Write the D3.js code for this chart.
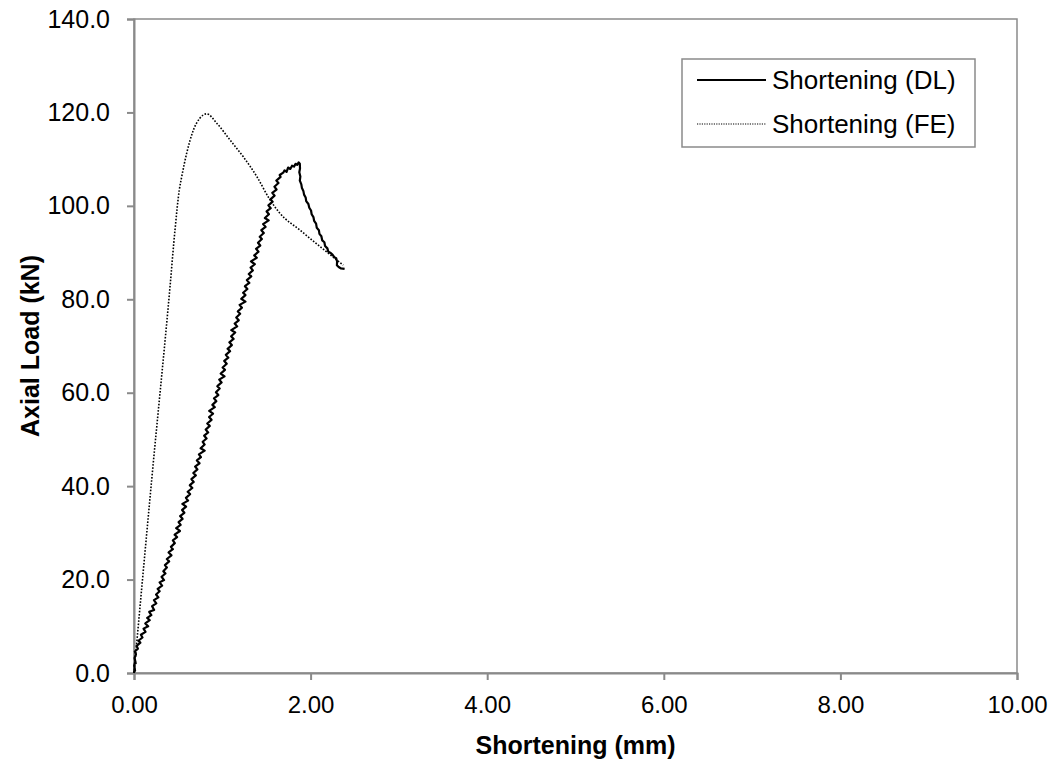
<!DOCTYPE html>
<html>
<head>
<meta charset="utf-8">
<script src="https://cdn.jsdelivr.net/npm/d3@7"></script>
<style>
  html, body { margin: 0; padding: 0; background: #fff; }
  svg { display: block; font-family: "Liberation Sans", Arial, sans-serif; }
</style>
</head>
<body>
<svg id="chart" width="1054" height="762"></svg>
<script>
// Axis tick values
const xTicks = [0, 2, 4, 6, 8, 10];
const yTicks = [0, 20, 40, 60, 80, 100, 120, 140];

// Series names
const seriesNames = ["Shortening (DL)", "Shortening (FE)"];

// Measured shortening (mm) from the displacement logger
const dlShortening = [
  0.000, 0.006, 0.012, 0.002, 0.014, 0.020, 0.006, 0.022, 0.010, 0.044,
  0.030, 0.072, 0.050, 0.096, 0.078, 0.130, 0.108, 0.160, 0.128, 0.178,
  0.150, 0.196, 0.172, 0.228, 0.205, 0.252, 0.226, 0.276, 0.250, 0.290,
  0.268, 0.318, 0.290, 0.340, 0.312, 0.356, 0.332, 0.372, 0.350, 0.398,
  0.372, 0.424, 0.392, 0.440, 0.418, 0.462, 0.440, 0.488, 0.460, 0.520,
  0.478, 0.528, 0.505, 0.550, 0.522, 0.570, 0.545, 0.590, 0.548, 0.612,
  0.588, 0.635, 0.608, 0.660, 0.632, 0.676, 0.650, 0.700, 0.672, 0.718,
  0.692, 0.742, 0.712, 0.758, 0.735, 0.800, 0.755, 0.800, 0.778, 0.822,
  0.795, 0.840, 0.812, 0.858, 0.830, 0.878, 0.850, 0.895, 0.852, 0.915,
  0.888, 0.932, 0.906, 0.955, 0.928, 0.970, 0.944, 0.992, 0.965, 1.025,
  0.982, 1.030, 1.004, 1.050, 1.022, 1.068, 1.040, 1.088, 1.060, 1.108,
  1.080, 1.128, 1.100, 1.146, 1.102, 1.168, 1.140, 1.186, 1.158, 1.202,
  1.176, 1.222, 1.196, 1.262, 1.215, 1.262, 1.236, 1.284, 1.256, 1.306,
  1.278, 1.328, 1.300, 1.346, 1.320, 1.368, 1.325, 1.390, 1.362, 1.410,
  1.382, 1.430, 1.404, 1.448, 1.424, 1.470, 1.442, 1.490, 1.462, 1.525,
  1.482, 1.528, 1.502, 1.548, 1.522, 1.570, 1.545, 1.592, 1.566, 1.614,
  1.590, 1.636, 1.612, 1.660, 1.650, 1.690, 1.705, 1.728, 1.745, 1.770,
  1.790, 1.812, 1.830, 1.850, 1.865, 1.878, 1.880, 1.872, 1.884, 1.878,
  1.895, 1.902, 1.918, 1.926, 1.944, 1.950, 1.975, 1.985, 2.005, 2.012,
  2.032, 2.040, 2.062, 2.070, 2.094, 2.100, 2.122, 2.132, 2.156, 2.164,
  2.190, 2.200, 2.228, 2.250, 2.268, 2.290, 2.300, 2.298, 2.318, 2.345,
  2.385
];
// Measured axial load (kN)
const dlLoad = [
  0.0, 0.8, 0.5, 1.6, 2.4, 2.1, 3.2, 4.0, 4.6, 5.2,
  5.8, 6.5, 6.9, 7.6, 8.2, 8.8, 9.5, 10.0, 10.6, 11.3,
  11.8, 12.4, 13.1, 13.5, 14.3, 14.9, 15.6, 16.2, 16.8, 17.5,
  18.0, 18.7, 19.4, 19.9, 20.6, 21.3, 21.8, 22.6, 23.1, 23.9,
  24.4, 25.2, 25.8, 26.5, 27.0, 27.8, 28.4, 29.1, 29.6, 30.4,
  31.0, 31.7, 32.3, 33.0, 33.6, 34.3, 34.9, 35.6, 36.2, 36.9,
  37.5, 38.3, 38.8, 39.6, 40.2, 40.9, 41.5, 42.3, 42.8, 43.6,
  44.2, 44.9, 45.5, 46.2, 46.8, 47.6, 48.1, 48.9, 49.5, 50.2,
  50.8, 51.5, 52.1, 52.9, 53.4, 54.2, 54.8, 55.5, 56.1, 56.9,
  57.4, 58.2, 58.8, 59.5, 60.1, 60.9, 61.4, 62.2, 62.8, 63.5,
  64.1, 64.9, 65.4, 66.2, 66.8, 67.5, 68.1, 68.9, 69.4, 70.2,
  70.8, 71.5, 72.1, 72.9, 73.4, 74.2, 74.8, 75.5, 76.1, 76.9,
  77.4, 78.2, 78.8, 79.5, 80.1, 80.9, 81.4, 82.2, 82.8, 83.5,
  84.1, 84.9, 85.4, 86.2, 86.8, 87.5, 88.1, 88.9, 89.4, 90.2,
  90.8, 91.5, 92.1, 92.9, 93.4, 94.2, 94.8, 95.5, 96.1, 96.9,
  97.4, 98.2, 98.8, 99.5, 100.1, 100.9, 101.4, 102.2, 102.8, 103.5,
  104.1, 104.9, 105.4, 106.2, 106.6, 107.1, 107.6, 107.3, 108.2, 107.9,
  108.6, 108.4, 109.0, 108.8, 109.3, 109.0, 108.0, 107.2, 106.3, 105.4,
  104.6, 103.8, 103.2, 102.4, 101.8, 101.0, 100.4, 99.6, 99.0, 98.2,
  97.6, 96.8, 96.2, 95.3, 94.8, 94.0, 93.5, 92.6, 92.2, 91.4,
  90.9, 90.2, 89.9, 89.5, 89.0, 88.8, 88.1, 87.3, 86.9, 86.6,
  86.5
];

// Finite element prediction
const feShortening = [
  0.000, 0.200, 0.408, 0.464, 0.513, 0.540, 0.597, 0.672, 0.747,
  0.823, 0.937, 1.087, 1.238, 1.390, 1.540, 1.653, 1.880, 2.106, 2.296, 2.370
];
const feLoad = [
  0.0, 41.3, 82.7, 94.8, 103.4, 106.2, 111.3, 116.2, 118.8,
  119.7, 117.7, 114.1, 110.5, 106.3, 101.3, 98.4, 94.8, 91.3, 88.4, 87.3
];

const svg = d3.select("#chart");
const plot = { left: 134, right: 1017, top: 19, bottom: 673 };
const axisColor = "#8a8a8a";
const font = "Liberation Sans, Arial, sans-serif";

const x = d3.scaleLinear().domain([0, 10]).range([plot.left, plot.right]);
const y = d3.scaleLinear().domain([0, 140]).range([plot.bottom, plot.top]);

// Plot frame
svg.append("rect")
  .attr("x", plot.left).attr("y", plot.top)
  .attr("width", plot.right - plot.left).attr("height", plot.bottom - plot.top)
  .attr("fill", "none").attr("stroke", axisColor).attr("stroke-width", 1.5);

// Y axis
const yAxis = svg.append("g")
  .attr("transform", `translate(${plot.left},0)`)
  .call(d3.axisLeft(y).tickValues(yTicks).tickSize(7).tickPadding(17)
    .tickFormat(d3.format(".1f")));
yAxis.select(".domain").attr("stroke", axisColor).attr("stroke-width", 2);
yAxis.selectAll(".tick line").attr("stroke", axisColor).attr("stroke-width", 2);
yAxis.selectAll(".tick text")
  .attr("fill", "#000").attr("font-size", 25).attr("font-family", font);

// X axis
const xAxis = svg.append("g")
  .attr("transform", `translate(0,${plot.bottom})`)
  .call(d3.axisBottom(x).tickValues(xTicks).tickSize(7).tickPadding(16)
    .tickFormat(d3.format(".2f")));
xAxis.select(".domain").attr("stroke", axisColor).attr("stroke-width", 2);
xAxis.selectAll(".tick line").attr("stroke", axisColor).attr("stroke-width", 2);
xAxis.selectAll(".tick text")
  .attr("fill", "#000").attr("font-size", 24).attr("font-family", font);

// Axis titles
svg.append("text")
  .attr("x", (plot.left + plot.right) / 2).attr("y", 754)
  .attr("text-anchor", "middle").attr("font-size", 25).attr("font-weight", "bold")
  .text("Shortening (mm)");
svg.append("text")
  .attr("transform", `translate(30,${(plot.top + plot.bottom) / 2}) rotate(-90)`)
  .attr("dy", "0.35em")
  .attr("text-anchor", "middle").attr("font-size", 25).attr("font-weight", "bold")
  .text("Axial Load (kN)");

// Finite element curve (dotted, smooth)
svg.append("path")
  .datum(d3.zip(feShortening, feLoad))
  .attr("d", d3.line().x(d => x(d[0])).y(d => y(d[1])).curve(d3.curveMonotoneX))
  .attr("fill", "none").attr("stroke", "#000")
  .attr("stroke-width", 1.6).attr("stroke-dasharray", "1.6,1.6");

// Measured curve (solid)
svg.append("path")
  .datum(d3.zip(dlShortening, dlLoad))
  .attr("d", d3.line().x(d => x(d[0])).y(d => y(d[1])))
  .attr("fill", "none").attr("stroke", "#000")
  .attr("stroke-width", 2.2).attr("stroke-linejoin", "round");

// Legend
const legend = svg.append("g");
legend.append("rect")
  .attr("x", 682).attr("y", 59).attr("width", 293).attr("height", 88)
  .attr("fill", "#fff").attr("stroke", axisColor).attr("stroke-width", 1.5);
const legendRows = [
  { name: seriesNames[0], y: 80, dash: null, width: 2 },
  { name: seriesNames[1], y: 124, dash: "1.2,1.2", width: 1.2 }
];
legendRows.forEach(r => {
  legend.append("line")
    .attr("x1", 697).attr("x2", 766).attr("y1", r.y).attr("y2", r.y)
    .attr("stroke", "#000").attr("stroke-width", r.width)
    .attr("stroke-dasharray", r.dash);
  legend.append("text")
    .attr("x", 772).attr("y", r.y).attr("dy", "0.35em")
    .attr("font-size", 26).attr("font-family", font).text(r.name);
});
</script>
</body>
</html>
